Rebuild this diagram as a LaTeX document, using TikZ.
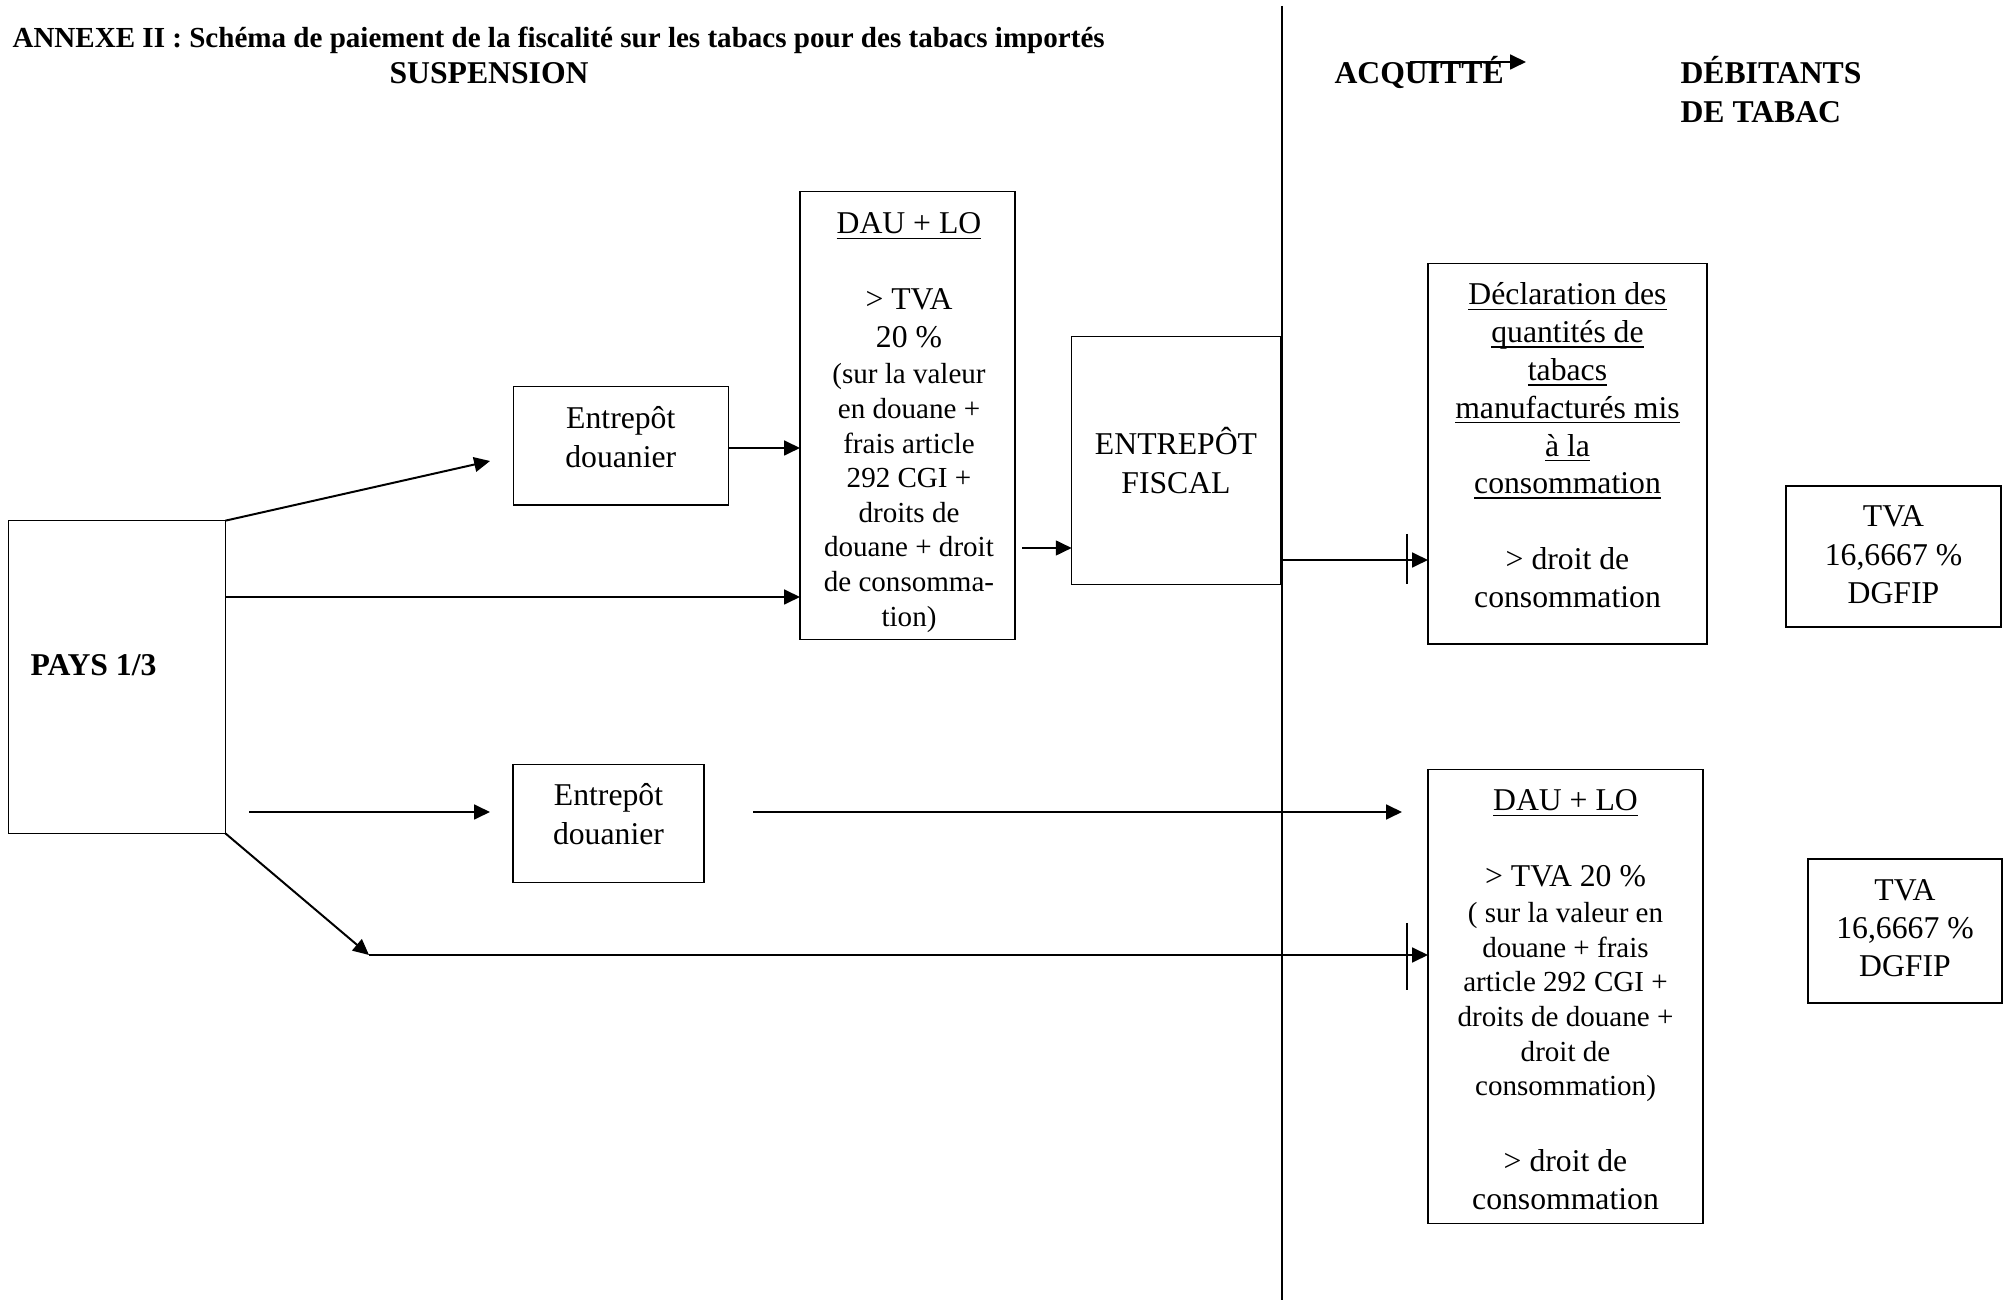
\documentclass[tikz,border=0pt]{standalone}
\usepackage{fontspec}
\setmainfont{Liberation Serif}
\usetikzlibrary{fit,arrows.meta}
\newlength\ulwd
\newcommand\ulx[1]{\settowidth{\ulwd}{#1}\makebox[0pt][l]{\rule[-1.9pt]{\ulwd}{0.55pt}}#1}
\tikzset{
  box/.style={draw, line width=0.5pt, inner sep=0pt, outer sep=0pt},
  txt/.style={text width=130pt, align=flush center, inner sep=0pt, anchor=base, font=\fontsize{12}{14.4}\selectfont},
  head/.style={inner sep=0pt, anchor=base west, font=\fontsize{12}{14.4}\selectfont\bfseries},
  arr/.style={line width=0.75pt, -{Triangle[length=6pt,width=5.6pt]}},
  ln/.style={line width=0.75pt},
}
\begin{document}
\begin{tikzpicture}[x=0.3785pt, y=-0.3785pt]
\useasboundingbox (0,0) rectangle (2011,1300);

% headings
\node[head, font=\fontsize{11}{13.2}\selectfont\bfseries] (title) at (12,48) {ANNEXE II : Schéma de paiement de la fiscalité sur les tabacs pour des tabacs importés};
\node[head] (susp) at (389,84) {SUSPENSION};
\node[head] (acq) at (1334,84) {ACQUITTÉ};
\node[head, text width=100pt, align=flush left] (deb) at (1680,84) {DÉBITANTS\\DE TABAC};

% divider
\coordinate (divtop) at (1282,6);
\coordinate (divbot) at (1282,1300);
\draw[ln] (divtop) -- (divbot);

% boxes
\node[box, fit={(8.3,520.7) (225.3,833.3)}] (pays) {};
\node[head] (payst) at (30,676) {PAYS 1/3};

\node[box, fit={(513.3,386.7) (728.3,505)}] (ed1) {};
\node[txt] (ed1t) at (620.8,429) {Entrepôt\\douanier};

\node[box, fit={(513,764.4) (704,882.4)}] (ed2) {};
\node[txt] (ed2t) at (608.5,806) {Entrepôt\\douanier};

\node[box, fit={(800,191.7) (1015,639.3)}] (dau1) {};
\node[txt] (dau1t) at (909,234) {\ulx{DAU + LO}\\[14pt]> TVA\\20~\%\par\vspace{0.8pt}{\fontsize{11}{13.1}\selectfont (sur la valeur\\en douane +\\frais article\\292 CGI +\\droits de\\douane + droit\\de consomma-\\tion)\par}};

\node[box, fit={(1071.7,336.7) (1280.7,584.3)}] (ef) {};
\node[txt] (eft) at (1176,455) {ENTREPÔT\\FISCAL};

\node[box, fit={(1428,263.5) (1707,644)}] (decl) {};
\node[txt, font=\fontsize{12}{14.3}\selectfont] (declt) at (1567.5,305) {\ulx{Déclaration des}\\\ulx{quantités de}\\\ulx{tabacs}\\\ulx{manufacturés mis}\\\ulx{à la}\\\ulx{consommation}\\[14.3pt]> droit de\\consommation};

\node[box, fit={(1786,486) (2001,627)}] (tva1) {};
\node[txt] (tva1t) at (1893.5,527) {TVA\\16,6667 \%\\DGFIP};

\node[box, fit={(1428,769.5) (1703,1223.5)}] (dau2) {};
\node[txt] (dau2t) at (1565.5,811) {\ulx{DAU + LO}\\[14pt]> TVA 20 \%\par\vspace{0.8pt}{\fontsize{11}{13.1}\selectfont ( sur la valeur en\\douane + frais\\article 292 CGI +\\droits de douane +\\droit de\\consommation)\par}\vspace{14.4pt}> droit de\\consommation};

\node[box, fit={(1808,859) (2002,1003)}] (tva2) {};
\node[txt] (tva2t) at (1905,900) {TVA\\16,6667 \%\\DGFIP};

% helper coordinates
\coordinate (yA) at (0,597);
\coordinate (yB) at (0,448);
\coordinate (yC) at (0,548);
\coordinate (yD) at (0,560);
\coordinate (tipA) at (490,461);
\coordinate (c4s) at (1022,548);
\coordinate (e2s) at (249,812);
\coordinate (e2t) at (490,812);
\coordinate (e3s) at (753,812);
\coordinate (e3t) at (1402,812);
\coordinate (bend) at (369,955);
\coordinate (tk1a) at (1407,534);
\coordinate (tk1b) at (1407,584);
\coordinate (tk2a) at (1407,923);
\coordinate (tk2b) at (1407,990);
\coordinate (acqs) at (1410,62);
\coordinate (acqt) at (1526,62);

% connectors
\draw[arr] (pays.north east) -- (tipA);
\draw[arr] (pays.east |- yA) -- (dau1.west |- yA);
\draw[arr] (ed1.east |- yB) -- (dau1.west |- yB);
\draw[arr] (c4s) -- (ef.west |- yC);
\draw[arr] (ef.east |- yD) -- (decl.west |- yD);
\draw[ln] (tk1a) -- (tk1b);
\draw[arr] (e2s) -- (e2t);
\draw[arr] (e3s) -- (e3t);
\draw[arr] (pays.south east) -- (bend);
\draw[arr] (bend) -- (dau2.west |- bend);
\draw[ln] (tk2a) -- (tk2b);
\draw[arr] (acqs) -- (acqt);
\end{tikzpicture}
\end{document}
